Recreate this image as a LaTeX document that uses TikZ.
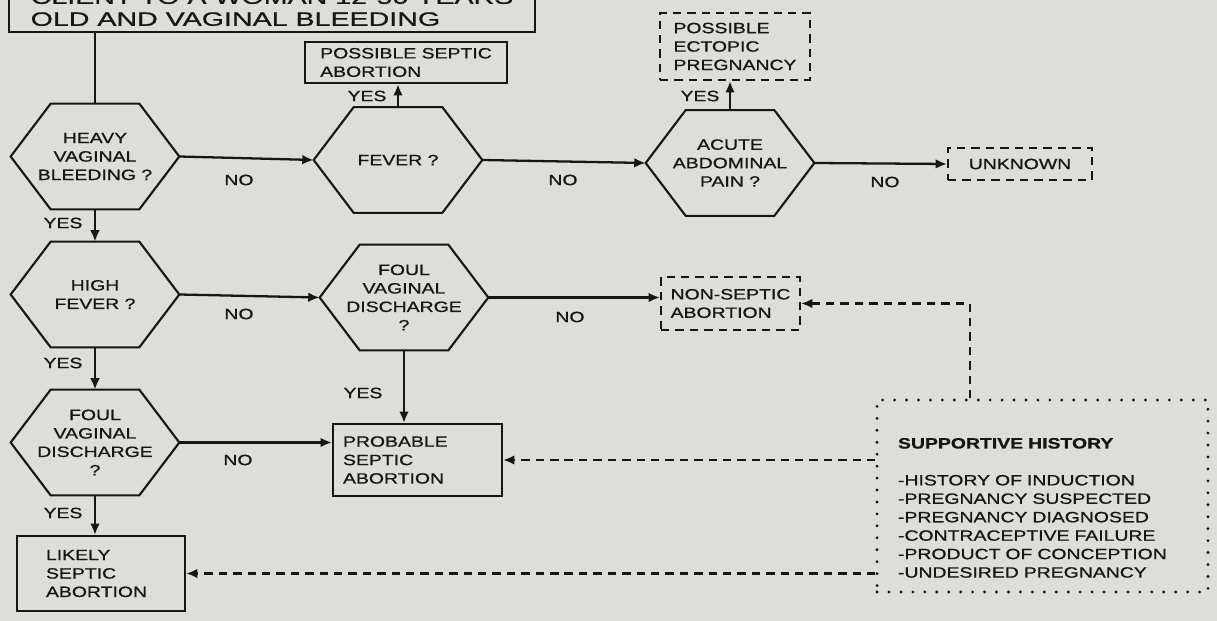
\documentclass[tikz,border=0pt]{standalone}
\usepackage{fontspec}
\setmainfont{Liberation Sans}[FakeStretch=1.3, FakeBold=0.9]
\newfontfamily\titlefont{Liberation Sans}[FakeStretch=1.48, FakeBold=0.9]
\usetikzlibrary{arrows.meta}

\definecolor{paper}{RGB}{221,221,217}
\definecolor{ink}{RGB}{22,22,22}

\tikzset{
  base/.style={font=\fontsize{8.5}{10.5}\selectfont, text=ink},
  hexq/.style={base, minimum width=3.36cm, minimum height=2.1cm, inner sep=0pt, align=center},
  hexline/.style={draw=ink, line width=1.2pt},
  solidbox/.style={base, draw=ink, line width=1.2pt, align=left, inner sep=0pt},
  dashbox/.style={solidbox, dash pattern=on 4.8pt off 3.4pt},
  dotbox/.style={base, draw=ink, line width=1.8pt, line cap=round, dash pattern=on 0pt off 6.8pt, align=left, inner ysep=0pt},
  lbl/.style={base, inner sep=0pt},
  arr/.style={draw=ink, line width=1.3pt, -{Latex[length=6.5pt,width=5.5pt]}},
  dasharr/.style={arr, dash pattern=on 4.8pt off 3.4pt}
}

% hexagon question: name, position, text
\newcommand{\hexq}[3]{%
  \node[hexq] (#1) at (#2) {#3};
  \draw[hexline] (#1.west) -- ([xshift=0.8cm]#1.north west) -- ([xshift=-0.8cm]#1.north east)
    -- (#1.east) -- ([xshift=-0.8cm]#1.south east) -- ([xshift=0.8cm]#1.south west) -- cycle;}

\begin{document}
\begin{tikzpicture}[x=0.02cm, y=-0.02cm]
  \fill[paper] (0,0) rectangle (1217,621);
  \useasboundingbox (0,0) rectangle (1217,621);

  % start
  \node[solidbox, font=\titlefont\fontsize{11}{12.5}\selectfont, anchor=south west,
        minimum width=10.52cm, inner ysep=0.12cm] (client) at (8,33)
        {CLIENT TO A WOMAN 12-50 YEARS\\OLD AND VAGINAL BLEEDING};

  % questions
  \hexq{heavy}{95,156.5}{HEAVY\\VAGINAL\\BLEEDING ?}
  \hexq{fever}{398,160}{FEVER ?}
  \hexq{acute}{730,163}{ACUTE\\ABDOMINAL\\PAIN ?}
  \hexq{highfever}{95,294.5}{HIGH\\FEVER ?}
  \hexq{foulmid}{404,297.5}{FOUL\\VAGINAL\\DISCHARGE\\?}
  \hexq{foulleft}{95,442.5}{FOUL\\VAGINAL\\DISCHARGE\\?}

  % outcomes
  \node[solidbox, minimum width=4.04cm, minimum height=0.82cm] (septic) at (406,62.5) {POSSIBLE SEPTIC\\ABORTION};
  \node[dashbox, minimum width=3.0cm, minimum height=1.34cm] (ectopic) at (735,46.5) {POSSIBLE\\ECTOPIC\\PREGNANCY};
  \node[dashbox, align=center, minimum width=2.88cm, minimum height=0.64cm] (unknown) at (1020,164) {UNKNOWN};
  \node[dashbox, minimum width=2.78cm, minimum height=1.06cm] (nonseptic) at (730.5,303.5) {NON-SEPTIC\\ABORTION};
  \node[solidbox, text width=2.98cm, inner xsep=0.2cm, minimum height=1.44cm] (probable) at (417.5,460) {PROBABLE\\SEPTIC\\ABORTION};
  \node[solidbox, text width=2.2cm, inner xsep=0.58cm, minimum height=1.5cm] (likely) at (101,573.5) {LIKELY\\SEPTIC\\ABORTION};
  \node[dotbox, text width=5.78cm, inner xsep=0.42cm, minimum height=3.84cm] (support) at (1042.5,496)
        {\mbox{}\\[9pt]\textbf{SUPPORTIVE HISTORY}\\[10.5pt]-HISTORY OF INDUCTION\\-PREGNANCY SUSPECTED\\-PREGNANCY DIAGNOSED\\-CONTRACEPTIVE FAILURE\\-PRODUCT OF CONCEPTION\\-UNDESIRED PREGNANCY};

  % labels
  \node[lbl] (no1) at (239,180) {NO};
  \node[lbl] (no2) at (563,180) {NO};
  \node[lbl] (no3) at (885,182) {NO};
  \node[lbl] (no4) at (239,314) {NO};
  \node[lbl] (no5) at (570,317) {NO};
  \node[lbl] (no6) at (238,460) {NO};
  \node[lbl] (yes1) at (63,223) {YES};
  \node[lbl] (yes2) at (367,96) {YES};
  \node[lbl] (yes3) at (700,96) {YES};
  \node[lbl] (yes4) at (63,363) {YES};
  \node[lbl] (yes5) at (363,393) {YES};
  \node[lbl] (yes6) at (63,513) {YES};

  % connectors
  \draw[hexline] (heavy.north |- client.south) -- (heavy.north);
  \draw[arr] (heavy.east) -- (fever.west);
  \draw[arr] (fever.east) -- (acute.west);
  \draw[arr] (acute.east) -- (unknown.west);
  \draw[arr] (fever.north) -- (fever.north |- septic.south);
  \draw[arr] (acute.north) -- (acute.north |- ectopic.south);
  \draw[arr] (heavy.south) -- (highfever.north);
  \draw[arr] (highfever.east) -- (foulmid.west);
  \draw[arr] (foulmid.east) -- (foulmid.east -| nonseptic.west);
  \draw[arr] (highfever.south) -- (foulleft.north);
  \draw[arr] (foulmid.south) -- (foulmid.south |- probable.north);
  \draw[arr] (foulleft.east) -- (foulleft.east -| probable.west);
  \draw[arr] (foulleft.south) -- (foulleft.south |- likely.north);

  \draw[dasharr] ([xshift=-1.45cm]support.north) |- (nonseptic.east);
  \draw[dasharr] (support.west |- probable.east) -- (probable.east);
  \draw[dasharr] (support.west |- likely.east) -- (likely.east);
\end{tikzpicture}
\end{document}
